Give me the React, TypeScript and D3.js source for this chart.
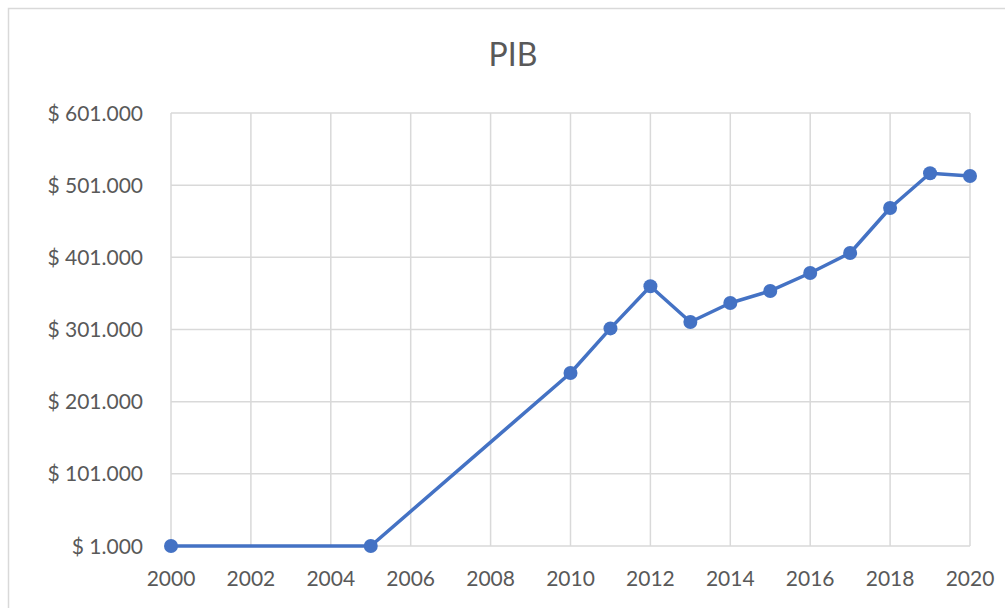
import React from "react";
import { scaleLinear, line } from "d3";

// PIB values
const years = [2000, 2005, 2010, 2011, 2012, 2013, 2014, 2015, 2016, 2017, 2018, 2019, 2020];
const pib = [1000, 1000, 240700, 302500, 361000, 311400, 337700, 354400, 379300, 407000, 469400, 517500, 513700];
const yTicks = [1000, 101000, 201000, 301000, 401000, 501000, 601000];
const xTicks = [2000, 2002, 2004, 2006, 2008, 2010, 2012, 2014, 2016, 2018, 2020];

const fmtMoney = (v: number) => "$ " + v.toLocaleString("de-DE");

export default function App() {
  const width = 1005;
  const height = 608;
  const margin = { left: 171, right: 35, top: 113, bottom: 62 };
  const innerW = width - margin.left - margin.right;
  const innerH = height - margin.top - margin.bottom;

  const xScale = scaleLinear().domain([2000, 2020]).range([margin.left, margin.left + innerW]);
  const yScale = scaleLinear().domain([1000, 601000]).range([margin.top + innerH, margin.top]);

  const pts = years.map((y, i) => [xScale(y), yScale(pib[i])] as [number, number]);
  const path = line()(pts) || "";

  const font = "Lato, 'Open Sans', sans-serif";
  const grey = "#d9d9d9";
  const textColor = "#595959";

  return (
    <div style={{ position: "absolute", left: 0, top: 0 }}>
      <svg width={width} height={height} style={{ display: "block", background: "#fff" }}>
        <rect x={8.5} y={8.5} width={1100} height={700} fill="#fff" stroke={grey} strokeWidth={1.5} />
        <text x={513} y={66} textAnchor="middle" fontFamily={font} fontSize={32} fill={textColor}>
          PIB
        </text>
        {yTicks.map((t) => (
          <g key={"y" + t}>
            <line x1={margin.left} x2={margin.left + innerW} y1={yScale(t)} y2={yScale(t)} stroke={grey} strokeWidth={1.5} />
            <text x={143} y={yScale(t)} dy="0.36em" textAnchor="end" fontFamily={font} fontSize={21} fill={textColor}>
              {fmtMoney(t)}
            </text>
          </g>
        ))}
        {xTicks.map((t) => (
          <g key={"x" + t}>
            <line x1={xScale(t)} x2={xScale(t)} y1={margin.top} y2={margin.top + innerH} stroke={grey} strokeWidth={1.5} />
            <text x={xScale(t)} y={586} textAnchor="middle" fontFamily={font} fontSize={21} fill={textColor}>
              {t}
            </text>
          </g>
        ))}
        <path d={path} fill="none" stroke="#4472C4" strokeWidth={3.5} strokeLinejoin="round" />
        {pts.map((p, i) => (
          <circle key={"p" + i} cx={p[0]} cy={p[1]} r={7} fill="#4472C4" />
        ))}
      </svg>
    </div>
  );
}
